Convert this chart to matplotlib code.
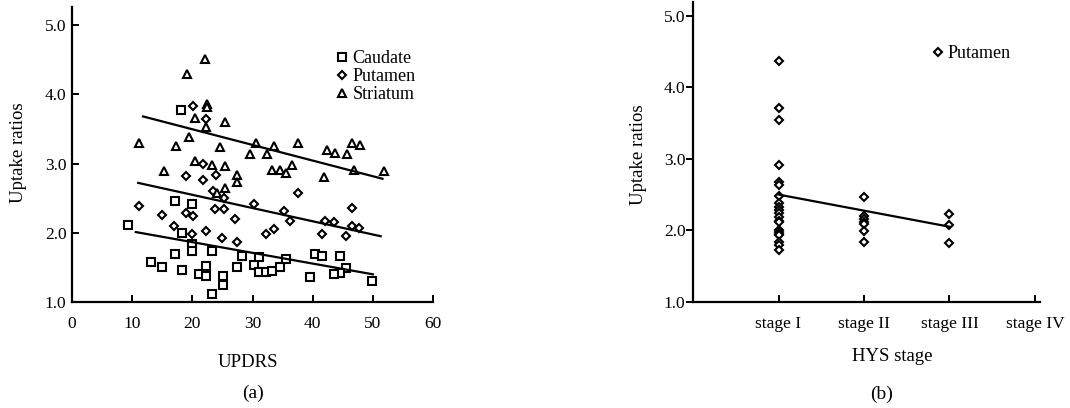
import matplotlib
matplotlib.use("Agg")
import matplotlib.pyplot as plt
from matplotlib.lines import Line2D

plt.rcParams['font.family'] = ['Liberation Serif', 'DejaVu Serif']

# (a) UPDRS vs uptake ratios
caudate_x = [18.1, 17.1, 20.0, 9.25, 18.3, 20.0, 20.0, 17.1, 23.2, 28.3, 13.1, 14.9,
             22.2, 27.4, 30.3, 18.3, 21.1, 22.3, 25.1, 25.1, 23.3, 31.1, 31.1, 32.3,
             33.3, 34.6, 35.5, 40.4, 41.6, 44.6, 45.6, 44.6, 43.5, 39.5, 49.8]
caudate_y = [3.77, 2.46, 2.42, 2.11, 1.99, 1.84, 1.74, 1.70, 1.74, 1.66, 1.58, 1.51,
             1.52, 1.51, 1.53, 1.46, 1.40, 1.37, 1.38, 1.25, 1.11, 1.65, 1.43, 1.43,
             1.45, 1.50, 1.62, 1.70, 1.66, 1.66, 1.49, 1.42, 1.40, 1.36, 1.30]

putamen_x = [20.1, 22.2, 21.8, 24.0, 18.9, 21.8, 23.4, 25.3, 11.1, 30.3, 23.8, 25.3,
             14.9, 18.9, 20.1, 27.1, 16.9, 22.2, 20.0, 24.9, 27.4, 37.6, 35.2, 36.3,
             46.5, 42.0, 43.5, 46.5, 47.7, 33.6, 32.2, 41.5, 45.5]
putamen_y = [3.83, 3.65, 3.00, 2.84, 2.82, 2.76, 2.61, 2.50, 2.39, 2.42, 2.34, 2.34,
             2.25, 2.29, 2.24, 2.20, 2.10, 2.03, 1.98, 1.93, 1.87, 2.58, 2.32, 2.17,
             2.36, 2.17, 2.15, 2.10, 2.07, 2.05, 1.98, 1.98, 1.95]

striatum_x = [22.1, 19.1, 22.4, 22.4, 20.4, 22.2, 25.5, 19.4, 11.1, 17.2, 24.6, 30.5,
              29.5, 33.6, 32.4, 37.6, 42.4, 43.7, 45.7, 46.6, 47.8, 20.4, 23.2, 25.5,
              15.3, 27.4, 27.5, 25.5, 24.1, 46.8, 51.8, 33.2, 34.6, 35.5, 36.5, 41.9]
striatum_y = [4.51, 4.29, 3.86, 3.81, 3.66, 3.53, 3.60, 3.39, 3.30, 3.26, 3.24, 3.29,
              3.14, 3.25, 3.14, 3.29, 3.20, 3.15, 3.14, 3.29, 3.27, 3.04, 2.98, 2.97,
              2.89, 2.83, 2.73, 2.64, 2.58, 2.91, 2.89, 2.91, 2.91, 2.87, 2.98, 2.80]

# fitted lines (start, end)
caudate_fit_x = [10.6, 50.0]
caudate_fit_y = [2.01, 1.40]
putamen_fit_x = [11.0, 51.3]
putamen_fit_y = [2.72, 1.95]
striatum_fit_x = [11.8, 51.6]
striatum_fit_y = [3.68, 2.78]

# (b) HYS stage vs putamen uptake
stage_labels = ['stage I', 'stage II', 'stage III', 'stage IV']
stage1_y = [4.37, 3.71, 3.54, 2.91, 2.68, 2.63, 2.48, 2.38, 2.33, 2.28, 2.24,
            2.19, 2.13, 2.11, 2.01, 1.98, 1.95, 1.93, 1.84, 1.80, 1.73]
stage2_y = [2.46, 2.20, 2.16, 2.12, 2.09, 1.99, 1.84]
stage3_y = [2.23, 2.07, 1.82]
hys_fit_x = [1, 3]
hys_fit_y = [2.50, 2.05]

mk = dict(linestyle='none', markerfacecolor='white', markeredgecolor='black',
          markeredgewidth=1.5, color='black')
sq_size, dm_size, tr_size = 5.6, 4.4, 6.2

fig = plt.figure(figsize=(10.7, 4.08), dpi=100)

# ---- panel (a)
ax1 = fig.add_axes([0.0673, 0.2598, 0.3374, 0.7230])
ax1.plot(caudate_x, caudate_y, marker='s', markersize=sq_size, **mk)
ax1.plot(putamen_x, putamen_y, marker='D', markersize=dm_size, **mk)
ax1.plot(striatum_x, striatum_y, marker='^', markersize=tr_size, **mk)
for fx, fy in [(caudate_fit_x, caudate_fit_y), (putamen_fit_x, putamen_fit_y),
               (striatum_fit_x, striatum_fit_y)]:
    ax1.plot(fx, fy, color='black', lw=1.6)
ax1.set_xlim(0, 60)
ax1.set_ylim(1.0, 5.26)
ax1.set_xticks(range(0, 61, 10))
ax1.set_yticks([1, 2, 3, 4, 5])
ax1.set_yticklabels(['1.0', '2.0', '3.0', '4.0', '5.0'])
ax1.tick_params(axis='both', direction='in', length=5, width=1.4, labelsize=12.5)
ax1.tick_params(axis='x', pad=10)
ax1.tick_params(axis='y', pad=4)

h1 = [Line2D([], [], marker='s', markersize=sq_size, **mk),
      Line2D([], [], marker='D', markersize=dm_size, **mk),
      Line2D([], [], marker='^', markersize=tr_size, **mk)]
ax1.legend(h1, ['Caudate', 'Putamen', 'Striatum'], frameon=False, fontsize=13,
           loc='upper left', bbox_to_anchor=(0.3143, 0.877), bbox_transform=fig.transFigure,
           handlelength=0.6, handletextpad=0.3, labelspacing=0.05, borderpad=0,
           borderaxespad=0)

# ---- panel (b)
ax2 = fig.add_axes([0.6477, 0.2605, 0.3243, 0.7353])
ax2.plot([1] * len(stage1_y), stage1_y, marker='D', markersize=dm_size, **mk)
ax2.plot([2] * len(stage2_y), stage2_y, marker='D', markersize=dm_size, **mk)
ax2.plot([3] * len(stage3_y), stage3_y, marker='D', markersize=dm_size, **mk)
ax2.plot(hys_fit_x, hys_fit_y, color='black', lw=1.6)
ax2.set_xlim(0, 4.06)
ax2.set_ylim(1.0, 5.2)
ax2.set_xticks([1, 2, 3, 4])
ax2.set_xticklabels(stage_labels)
ax2.set_yticks([1, 2, 3, 4, 5])
ax2.set_yticklabels(['1.0', '2.0', '3.0', '4.0', '5.0'])
ax2.tick_params(axis='x', direction='in', length=5, width=1.4, labelsize=12.5, pad=10)
ax2.tick_params(axis='y', direction='out', length=5, width=1.4, labelsize=12.5, pad=0.5)
ax2.legend([Line2D([], [], marker='D', markersize=dm_size, **mk)], ['Putamen'],
           frameon=False, fontsize=13, loc='upper left', bbox_to_anchor=(0.872, 0.889),
           bbox_transform=fig.transFigure, handlelength=0.6, handletextpad=0.2,
           borderpad=0, borderaxespad=0)

for ax in (ax1, ax2):
    ax.spines['top'].set_visible(False)
    ax.spines['right'].set_visible(False)
    ax.spines['left'].set_linewidth(1.6)
    ax.spines['bottom'].set_linewidth(1.6)

fig.text(0.0171, 0.625, 'Uptake ratios', rotation=90, ha='center', va='center', fontsize=13.5)
fig.text(0.5966, 0.620, 'Uptake ratios', rotation=90, ha='center', va='center', fontsize=13.5)
fig.text(0.2313, 0.1005, 'UPDRS', ha='center', va='baseline', fontsize=13.5)
fig.text(0.2364, 0.0245, '(a)', ha='center', va='baseline', fontsize=14)
fig.text(0.8336, 0.116, 'HYS stage', ha='center', va='baseline', fontsize=13.5)
fig.text(0.824, 0.022, '(b)', ha='center', va='baseline', fontsize=14)

fig.savefig('out.png', dpi=100)
